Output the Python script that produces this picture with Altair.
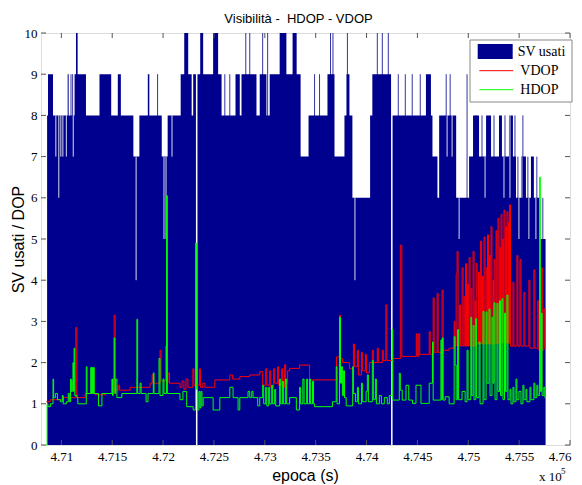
import altair as alt
import pandas as pd

# ---------------- data ----------------
# SV usati: step envelope (epoch in s, number of satellites)
sv_t = [470860, 470869, 470918, 471062, 471072, 471130, 471144, 471160, 471242, 471375,
        471490, 471555, 471585, 471708, 471767, 471850, 471865, 471987, 472045, 472173,
        472208, 472247, 472281, 472296, 472323, 472338, 472365, 472394, 472492, 472541,
        472575, 472712, 472754, 472771, 472918, 472950, 473016, 473048, 473146, 473212,
        473273, 473313, 473352, 473430, 473616, 473685, 473783, 473803, 473832, 473861,
        474035, 474057, 474241, 474256, 474584, 474633, 474648, 474697, 474714, 474881,
        475008, 475047, 475106, 475175, 475224, 475302, 475331, 475400, 475439, 475469,
        475518, 475567, 475616, 475645, 475701, 475760]
sv_n = [8, 9, 8, 9, 8, 9, 10, 9, 8, 9,
        8, 9, 8, 7, 8, 9, 8, 7, 8, 9,
        10, 9, 8, 9, 0, 9, 10, 9, 10, 9,
        8, 9, 8, 9, 8, 9, 8, 9, 10, 9,
        10, 9, 7, 8, 9, 7, 8, 9, 8, 6,
        8, 9, 0, 8, 9, 8, 7, 6, 8, 6,
        7, 8, 7, 8, 7, 8, 7, 8, 7, 6,
        7, 6, 7, 6, 5, 5]

# brief extra satellites (thin upward lines)
spk_t = [471095, 471111, 471946, 472607, 472656, 472813, 472852, 472979, 473028, 473489,
         473538, 473646, 473670, 473812, 474106, 474155, 474214, 474312, 474381, 474449,
         474528, 474783, 474822, 474988, 475077, 475135, 475253, 475361, 475459, 475488,
         475537, 475586, 475674, 475733]
spk_n = [9, 9, 9, 9, 9, 10, 10, 10, 10, 9,
         9, 10, 10, 10, 10, 10, 10, 9, 9, 9,
         9, 9, 9, 9, 8, 8, 8, 8, 8, 7,
         8, 7, 7, 6]

# brief losses of satellites (thin white lines): epoch, low value, envelope value
dip_t = [470946, 470975, 470995, 471015, 471049, 471117, 471735, 472009, 472029, 472088,
         473886, 474910, 474792, 474841, 475165, 475351, 475410, 475498, 475527, 475596,
         475665]
dip_lo = [7, 6, 7, 7, 7, 7, 4, 5, 5, 7,
          4, 5, 7, 7, 6, 6, 6, 5, 6, 5,
          5]
dip_hi = [8, 8, 8, 8, 8, 8, 7, 7, 7, 8,
          6, 6, 8, 8, 7, 7, 8, 6, 7, 6,
          6]

# VDOP
vdop_t = [470853, 470892, 471019, 471142, 471152, 471235, 471333, 471431, 471519, 471529,
          471558, 471573, 471676, 471872, 471892, 471901, 471970, 471980, 472024, 472034,
          472048, 472063, 472166, 472186, 472205, 472225, 472244, 472293, 472303, 472357,
          472367, 472391, 472411, 472509, 472656, 472685, 472754, 472852, 472950, 472979,
          473009, 473019, 473048, 473058, 473087, 473097, 473126, 473136, 473166, 473175,
          473195, 473205, 473224, 473244, 473342, 473440, 473705, 473734, 473744, 473763,
          473832, 473871, 473881, 473910, 473920, 473950, 473959, 473989, 473999, 474028,
          474057, 474067, 474106, 474116, 474155, 474165, 474190, 474200, 474253, 474332,
          474347, 474489, 474498, 474513, 474523, 474616, 474626, 474655, 474665, 474694,
          474704, 474743, 474753, 474812, 474861, 474869, 474881, 474890, 474900, 474915,
          474923, 474939, 474949, 474959, 474967, 474974, 474983, 474993, 475001, 475008,
          475018, 475028, 475036, 475047, 475057, 475065, 475072, 475077, 475086, 475101,
          475109, 475121, 475131, 475140, 475148, 475155, 475165, 475175, 475183, 475189,
          475199, 475209, 475216, 475224, 475233, 475243, 475249, 475253, 475263, 475273,
          475281, 475292, 475302, 475309, 475316, 475322, 475331, 475338, 475345, 475351,
          475361, 475368, 475375, 475380, 475390, 475395, 475400, 475405, 475415, 475439,
          475449, 475478, 475488, 475508, 475518, 475547, 475557, 475596, 475606, 475645,
          475655, 475684, 475694, 475719, 475728, 475743, 475753, 475760]
vdop_v = [1.05, 1.1, 1.15, 2.85, 1.15, 1.25, 1.22, 1.25, 3.15, 1.33,
          1.45, 1.33, 1.4, 1.5, 1.7, 1.5, 2.3, 1.55, 2.4, 1.5,
          1.75, 1.5, 1.4, 1.55, 1.35, 1.6, 1.4, 1.85, 1.45, 1.85,
          1.4, 1.5, 1.4, 1.58, 1.7, 1.6, 1.66, 1.7, 1.78, 1.45,
          1.85, 1.45, 1.8, 1.4, 1.85, 1.5, 1.9, 1.45, 1.85, 1.4,
          1.95, 1.5, 1.8, 1.86, 1.94, 1.58, 2.14, 3.15, 2.1, 2.0,
          1.85, 2.45, 1.9, 2.3, 1.7, 2.25, 1.8, 2.2, 1.75, 2.0,
          2.3, 2.0, 2.35, 2.0, 2.3, 2.05, 3.4, 2.05, 2.1, 4.85,
          2.15, 2.7, 2.15, 2.7, 2.2, 2.75, 2.2, 3.57, 2.25, 3.68,
          2.25, 3.76, 2.3, 2.35, 3.0, 2.4, 4.15, 4.7, 2.4, 3.4,
          2.4, 4.3, 2.4, 3.6, 2.4, 4.4, 2.4, 3.9, 2.4, 4.55,
          2.4, 3.8, 2.4, 4.7, 2.4, 3.5, 2.4, 4.4, 2.45, 4.2,
          2.45, 4.95, 2.45, 4.1, 2.45, 5.05, 2.45, 4.3, 2.45, 5.1,
          2.45, 4.6, 2.45, 5.3, 2.45, 4.0, 2.45, 4.5, 2.45, 5.2,
          2.45, 5.5, 2.47, 4.8, 2.47, 5.6, 2.47, 5.0, 2.47, 5.7,
          2.47, 5.3, 2.47, 5.66, 2.47, 5.4, 2.47, 5.83, 2.4, 3.95,
          2.4, 4.6, 2.4, 4.5, 2.4, 3.7, 2.4, 4.0, 2.35, 4.25,
          2.35, 3.5, 2.3, 4.3, 2.3, 3.3, 2.35, 2.35]

# HDOP
hdop_t = [470853, 470860, 470868, 470892, 470918, 470924, 470941, 470961, 470990, 471010,
          471019, 471049, 471068, 471078, 471091, 471098, 471108, 471114, 471120, 471125,
          471132, 471154, 471162, 471245, 471252, 471284, 471289, 471294, 471299, 471304,
          471309, 471313, 471318, 471323, 471365, 471399, 471497, 471503, 471509, 471519,
          471526, 471534, 471546, 471595, 471742, 471750, 471774, 471784, 471833, 471852,
          471904, 471911, 471960, 471970, 471999, 472009, 472034, 472042, 472127, 472166,
          472195, 472232, 472296, 472320, 472328, 472338, 472352, 472362, 472372, 472382,
          472394, 472492, 472558, 472656, 472688, 472737, 472754, 472835, 472852, 472872,
          472884, 472930, 472950, 472979, 472989, 473009, 473019, 473038, 473048, 473068,
          473077, 473097, 473107, 473146, 473156, 473175, 473185, 473205, 473215, 473244,
          473310, 473342, 473352, 473374, 473386, 473411, 473420, 473440, 473450, 473469,
          473479, 473489, 473665, 473702, 473710, 473734, 473744, 473754, 473763, 473773,
          473783, 473800, 473864, 473871, 473891, 473910, 473920, 473930, 473950, 473959,
          473996, 474008, 474018, 474057, 474067, 474087, 474097, 474126, 474146, 474175,
          474204, 474224, 474250, 474258, 474322, 474332, 474351, 474388, 474415, 474452,
          474486, 474535, 474616, 474648, 474655, 474731, 474739, 474746, 474753, 474773,
          474812, 474861, 474871, 474881, 474895, 474905, 474939, 474969, 474988, 474998,
          475025, 475033, 475047, 475057, 475074, 475082, 475106, 475116, 475145, 475155,
          475175, 475184, 475204, 475214, 475233, 475243, 475253, 475263, 475282, 475292,
          475307, 475317, 475331, 475341, 475356, 475366, 475380, 475390, 475410, 475420,
          475439, 475449, 475469, 475478, 475498, 475518, 475537, 475547, 475567, 475576,
          475606, 475616, 475645, 475655, 475674, 475684, 475701, 475709, 475719, 475726,
          475743, 475753, 475760]
hdop_v = [0.0, 1.0, 0.93, 1.0, 1.6, 1.15, 1.25, 1.1, 1.05, 1.2,
          1.0, 1.05, 1.25, 1.05, 1.6, 1.3, 1.55, 2.0, 1.3, 2.35,
          1.2, 1.15, 1.0, 1.9, 1.25, 1.25, 1.88, 1.25, 1.88, 1.25,
          1.88, 1.25, 1.88, 1.25, 0.95, 1.25, 1.6, 1.2, 1.6, 2.6,
          1.25, 1.6, 1.15, 1.25, 3.05, 1.25, 1.5, 1.25, 1.05, 1.25,
          1.75, 1.25, 2.1, 1.2, 1.6, 1.25, 6.05, 1.25, 1.25, 1.1,
          1.3, 0.93, 0.85, 4.9, 1.35, 0.85, 1.3, 0.9, 1.3, 0.95,
          1.15, 0.85, 1.15, 1.4, 1.15, 0.85, 1.15, 1.3, 1.15, 1.3,
          1.15, 0.95, 1.15, 1.45, 1.0, 1.4, 0.95, 1.4, 1.0, 1.45,
          1.0, 1.35, 0.95, 1.6, 1.0, 1.55, 1.0, 1.6, 1.0, 1.15,
          0.85, 1.4, 1.0, 1.6, 1.0, 1.6, 1.0, 1.6, 1.0, 1.55,
          1.0, 0.93, 1.05, 1.9, 1.0, 3.1, 1.5, 1.9, 1.2, 1.8,
          1.15, 0.95, 1.9, 1.25, 1.05, 1.4, 1.0, 1.0, 1.5, 1.05,
          1.3, 1.7, 1.05, 2.05, 1.1, 1.6, 1.0, 1.2, 1.0, 1.15,
          1.0, 1.2, 2.8, 1.09, 1.74, 1.33, 1.09, 1.45, 1.09, 1.01,
          1.45, 1.01, 1.5, 2.5, 1.09, 2.55, 1.1, 2.6, 1.09, 1.17,
          1.0, 2.63, 1.94, 1.1, 2.8, 1.1, 1.3, 1.05, 2.3, 1.1,
          3.1, 1.2, 2.9, 1.1, 3.07, 1.15, 2.5, 1.0, 3.24, 1.1,
          3.23, 1.5, 3.3, 1.2, 3.1, 1.5, 3.45, 1.1, 3.44, 1.3,
          3.5, 1.2, 3.55, 1.1, 3.2, 1.3, 3.64, 1.1, 1.35, 1.0,
          1.4, 1.05, 1.6, 1.1, 1.3, 1.0, 1.45, 1.1, 1.35, 1.05,
          1.4, 1.1, 1.5, 1.15, 1.45, 1.2, 6.5, 1.3, 3.2, 1.2,
          1.4, 1.15, 1.15]

x_ticks = [471000, 471500, 472000, 472500, 473000, 473500, 474000, 474500, 475000, 475500, 476000]
y_ticks = [0, 1, 2, 3, 4, 5, 6, 7, 8, 9, 10]

# ---------------- styling ----------------
NAVY = "#00008F"
W, H = 529, 412
SERIF = "Liberation Serif"
SANS = "Liberation Sans"

xs = alt.Scale(domain=[470800, 476000], nice=False, zero=False)
ys = alt.Scale(domain=[0, 10], nice=False)

xaxis = alt.Axis(values=x_ticks, labelExpr="format(datum.value / 100000, '.3~f')",
                 ticks=False, domain=False, grid=False, labelFont=SERIF, labelFontSize=13,
                 labelColor="black", labelPadding=5, labelFlush=True, labelFlushOffset=1,
                 titleFont=SANS, titleFontSize=16, titleFontWeight="normal", titleColor="black",
                 titleX=264, titleY=35, titleBaseline="alphabetic", titleAnchor="middle")
yaxis = alt.Axis(values=y_ticks, ticks=False, domain=False, grid=False, labelFont=SERIF,
                 labelFontSize=13, labelColor="black", labelPadding=4,
                 titleFont=SANS, titleFontSize=16, titleFontWeight="normal", titleColor="black",
                 titleX=-18, titleY=206, titleBaseline="alphabetic", titleAngle=270)

XT = "epoca (s)"
YT = "SV usati / DOP"


def X(f):
    return alt.X(f, type="quantitative", scale=xs, axis=xaxis, title=XT)


def Y(f):
    return alt.Y(f, type="quantitative", scale=ys, axis=yaxis, title=YT)


sv_df = pd.DataFrame({"t": sv_t, "n": sv_n, "serie": "SV usati"})
spk_df = pd.DataFrame({"t": spk_t, "n": spk_n, "b": 0})
dip_df = pd.DataFrame({"t": dip_t, "lo": dip_lo, "hi": dip_hi})
vdop_df = pd.DataFrame({"t": vdop_t, "v": vdop_v, "serie": "VDOP"})
hdop_df = pd.DataFrame({"t": hdop_t, "v": hdop_v, "serie": "HDOP"})
xt_df = pd.DataFrame({"t": x_ticks})
yt_df = pd.DataFrame({"v": y_ticks})

leg_sv = alt.Legend(orient="none", legendX=436.7, legendY=1, title=None,
                    symbolType="M-1,-0.43H1V0.43H-1Z", symbolSize=1225, symbolStrokeWidth=0,
                    symbolOpacity=1, labelFont=SERIF, labelFontSize=14, labelColor="black",
                    labelOffset=5, padding=0)
leg_dop = alt.Legend(orient="none", legendX=448.3, legendY=30.7, title=None,
                     symbolType="M-3,0H3", symbolSize=128, symbolStrokeWidth=1,
                     labelFont=SERIF, labelFontSize=14, labelColor="black",
                     labelOffset=17, padding=0, rowPadding=5)
dop_scale = alt.Scale(domain=["VDOP", "HDOP"], range=["#FF0000", "#00FF00"])

area = alt.Chart(sv_df).mark_area(interpolate="step-after").encode(
    x=X("t"), y=Y("n"),
    fill=alt.Fill("serie:N", scale=alt.Scale(domain=["SV usati"], range=[NAVY]), legend=leg_sv))

spikes = alt.Chart(spk_df).mark_rule(color=NAVY, strokeWidth=1, opacity=0.8).encode(
    x=X("t"), y=Y("n"), y2="b:Q")

dips = alt.Chart(dip_df).mark_rule(color="white", strokeWidth=1, opacity=0.85).encode(
    x=X("t"), y=Y("lo"), y2="hi:Q")

vline = alt.Chart(vdop_df).mark_line(interpolate="step-after", strokeWidth=1).encode(
    x=X("t"), y=Y("v"), stroke=alt.Stroke("serie:N", scale=dop_scale, legend=leg_dop))

hline = alt.Chart(hdop_df).mark_line(interpolate="step-after", strokeWidth=1).encode(
    x=X("t"), y=Y("v"), stroke=alt.Stroke("serie:N", scale=dop_scale, legend=leg_dop))

TICK = "#555555"
tick_b = alt.Chart(xt_df).mark_rule(color=TICK).encode(x=X("t"), y=alt.value(H), y2=alt.value(H - 5))
tick_t = alt.Chart(xt_df).mark_rule(color=TICK).encode(x=X("t"), y=alt.value(0), y2=alt.value(5))
tick_l = alt.Chart(yt_df).mark_rule(color=TICK).encode(y=Y("v"), x=alt.value(0), x2=alt.value(5))
tick_r = alt.Chart(yt_df).mark_rule(color=TICK).encode(y=Y("v"), x=alt.value(W), x2=alt.value(W - 5))

one = pd.DataFrame({"k": [0]})
leg_box = alt.Chart(one).mark_rect(fill="white", stroke="#888888", strokeWidth=1).encode(
    x=alt.value(429), x2=alt.value(531), y=alt.value(7), y2=alt.value(69))

title_txt = alt.Chart(one).mark_text(text="Visibilità -\u00a0 HDOP - VDOP", font=SANS, fontSize=13,
                                     align="center", baseline="alphabetic", color="black").encode(
    x=alt.value(257.5), y=alt.value(-10))

exp_base = alt.Chart(one).mark_text(text="x 10", font=SERIF, fontSize=13, align="left",
                                    baseline="alphabetic", color="black").encode(
    x=alt.value(498), y=alt.value(448))
exp_pow = alt.Chart(one).mark_text(text="5", font=SERIF, fontSize=9, align="left",
                                   baseline="alphabetic", color="black").encode(
    x=alt.value(520), y=alt.value(441))

chart = alt.layer(area, spikes, dips, vline, hline, tick_b, tick_t, tick_l, tick_r,
                  leg_box, title_txt, exp_base, exp_pow).properties(
    width=W, height=H,
    autosize=alt.AutoSizeParams(type="none"),
    padding={"left": 33, "top": 25, "right": 4, "bottom": 40},
).configure_view(stroke="#666666", strokeWidth=1).configure(background="white")

chart.save("out.html", embed_options={"renderer": "svg", "actions": False})
